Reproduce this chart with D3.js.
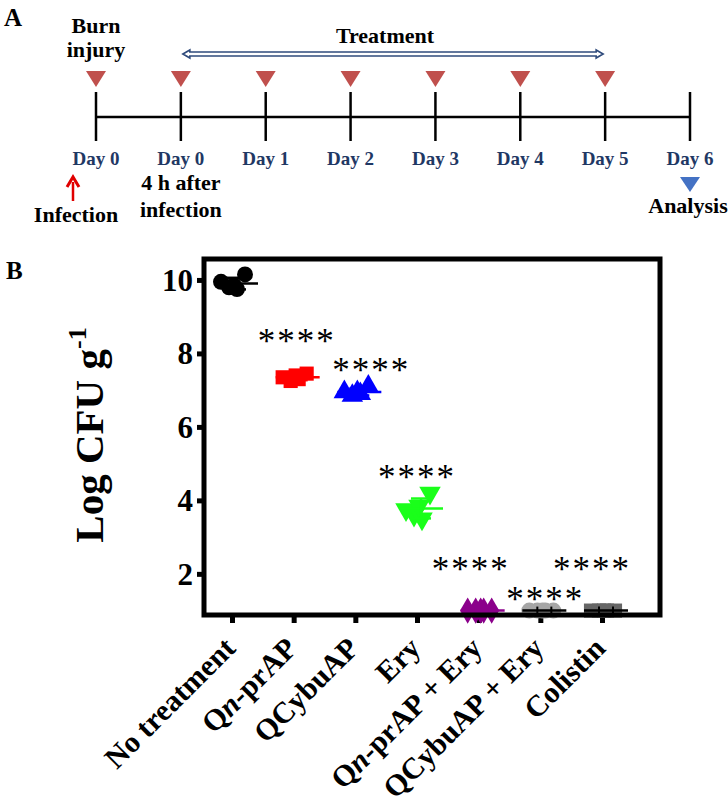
<!DOCTYPE html>
<html>
<head>
<meta charset="utf-8">
<script src="https://cdn.jsdelivr.net/npm/d3@7"></script>
<style>
  body { margin: 0; background: #fff; }
  svg { display: block; font-family: "Liberation Serif", "Times New Roman", serif; }
</style>
</head>
<body>
<svg id="fig" width="728" height="809"></svg>
<script>
// ---- panel A data: treatment timeline
var timelineDays = ["Day 0", "Day 0", "Day 1", "Day 2", "Day 3", "Day 4", "Day 5", "Day 6"];
var doseDays = [0, 1, 2, 3, 4, 5, 6];      // red markers (burn + treatment)
var treatmentSpan = [1, 6];                // treatment arrow, index of first/last day
var analysisDay = 7;

// ---- panel B data: log CFU per gram, 5 animals per group
var categories = ["No treatment", "Qn-prAP", "QCybuAP", "Ery", "Qn-prAP + Ery", "QCybuAP + Ery", "Colistin"];
var noTreatment = [9.95, 9.8, 9.75, 10.15, 9.85];
var qnPrAP      = [7.35, 7.25, 7.3, 7.45, 7.4];
var qcybuAP     = [6.95, 6.85, 6.9, 7.1, 6.95];
var ery         = [3.75, 3.6, 3.5, 4.2, 3.85];
var qnPrAPEry   = [1, 1, 1, 1, 1];
var qcybuAPEry  = [1, 1, 1, 1, 1];
var colistin    = [1, 1, 1, 1, 1];
var groups = [noTreatment, qnPrAP, qcybuAP, ery, qnPrAPEry, qcybuAPEry, colistin];
var stars = ["", "****", "****", "****", "****", "****", "****"];
var starLevel = [null, 8.45, 7.66, 4.75, 2.24, 1.43, 2.24];
var yTicks = [2, 4, 6, 8, 10];

var colors = ["#000000", "#ff0000", "#0000ff", "#1aff1a", "#8b008b", "#a6a6a6", "#666666"];
var shapes = [d3.symbolCircle, d3.symbolSquare, d3.symbolTriangle, d3.symbolTriangle,
              d3.symbolDiamond, d3.symbolCircle, d3.symbolSquare];
var lineColors = ["#000", "#ff0000", "#0000ff", "#1aff1a", "#8b008b", "#000", "#000"];

function drawFigure() {
  var svg = d3.select("#fig");

  /* ================= panel A ================= */
  var tl = d3.scalePoint().domain(d3.range(timelineDays.length)).range([96, 690]);
  var axisY = 117;

  svg.append("text").text("A")
    .attr("x", 4).attr("y", 26)
    .attr("font-size", 25).attr("font-weight", "bold");

  var pA = svg.append("g");

  pA.append("line")
    .attr("x1", tl(0)).attr("x2", tl(timelineDays.length - 1))
    .attr("y1", axisY).attr("y2", axisY)
    .attr("stroke", "#000").attr("stroke-width", 2.5);

  pA.selectAll(".tick-v").data(timelineDays).enter().append("line")
    .attr("x1", function(d, i) { return tl(i); })
    .attr("x2", function(d, i) { return tl(i); })
    .attr("y1", 92).attr("y2", 141)
    .attr("stroke", "#000").attr("stroke-width", 2.5);

  pA.selectAll(".day").data(timelineDays).enter().append("text")
    .text(function(d) { return d; })
    .attr("x", function(d, i) { return tl(i); })
    .attr("y", 165)
    .attr("text-anchor", "middle")
    .attr("font-size", 19).attr("font-weight", "bold")
    .attr("fill", "#1f3864");

  // red dose markers
  pA.selectAll(".dose").data(doseDays).enter().append("path")
    .attr("d", "M-10,0 L10,0 L0,16 Z")
    .attr("transform", function(d) { return "translate(" + tl(d) + ",71)"; })
    .attr("fill", "#c0504d");

  // analysis marker
  pA.append("path")
    .attr("d", "M-10,0 L10,0 L0,15 Z")
    .attr("transform", "translate(" + tl(analysisDay) + ",177)")
    .attr("fill", "#4472c4");

  // treatment double arrow (outlined block arrow)
  var ax1 = tl(treatmentSpan[0]) + 2, ax2 = tl(treatmentSpan[1]) - 2, ay = 54;
  pA.append("path")
    .attr("d", "M" + ax1 + "," + ay +
      " L" + (ax1 + 7) + "," + (ay - 4) + " L" + (ax1 + 7) + "," + (ay - 2) +
      " L" + (ax2 - 7) + "," + (ay - 2) + " L" + (ax2 - 7) + "," + (ay - 4) +
      " L" + ax2 + "," + ay +
      " L" + (ax2 - 7) + "," + (ay + 4) + " L" + (ax2 - 7) + "," + (ay + 2) +
      " L" + (ax1 + 7) + "," + (ay + 2) + " L" + (ax1 + 7) + "," + (ay + 4) + " Z")
    .attr("fill", "#fff").attr("stroke", "#2f4b7c").attr("stroke-width", 1.6);

  pA.append("text").text("Treatment")
    .attr("x", (tl(treatmentSpan[0]) + tl(treatmentSpan[1])) / 2 - 8).attr("y", 43)
    .attr("text-anchor", "middle").attr("font-size", 22).attr("font-weight", "bold");

  pA.append("text").text("Burn")
    .attr("x", tl(0)).attr("y", 33)
    .attr("text-anchor", "middle").attr("font-size", 22).attr("font-weight", "bold");
  pA.append("text").text("injury")
    .attr("x", tl(0)).attr("y", 57)
    .attr("text-anchor", "middle").attr("font-size", 22).attr("font-weight", "bold");

  // infection arrow
  var ix = tl(0) - 23;
  pA.append("line")
    .attr("x1", ix).attr("x2", ix).attr("y1", 201).attr("y2", 182)
    .attr("stroke", "#e00000").attr("stroke-width", 2.5);
  pA.append("path")
    .attr("d", "M" + (ix - 6) + ",187 L" + ix + ",177 L" + (ix + 6) + ",187")
    .attr("fill", "none").attr("stroke", "#e00000").attr("stroke-width", 3);
  pA.append("text").text("Infection")
    .attr("x", ix + 3).attr("y", 222)
    .attr("text-anchor", "middle").attr("font-size", 22).attr("font-weight", "bold");

  pA.append("text").text("4 h after")
    .attr("x", tl(1)).attr("y", 190)
    .attr("text-anchor", "middle").attr("font-size", 22).attr("font-weight", "bold");
  pA.append("text").text("infection")
    .attr("x", tl(1)).attr("y", 217)
    .attr("text-anchor", "middle").attr("font-size", 22).attr("font-weight", "bold");

  pA.append("text").text("Analysis")
    .attr("x", tl(analysisDay) - 2).attr("y", 213)
    .attr("text-anchor", "middle").attr("font-size", 22).attr("font-weight", "bold");

  /* ================= panel B ================= */
  svg.append("text").text("B")
    .attr("x", 6).attr("y", 279)
    .attr("font-size", 25).attr("font-weight", "bold");

  var left = 204, right = 660, plotTop = 259, bottom = 615;

  var x = d3.scalePoint().domain(categories).range([232, 602]);
  var y = d3.scaleLinear().domain([0.88, 10.57]).range([bottom, plotTop]);

  var pB = svg.append("g");

  // y axis
  var yAxis = pB.append("g")
    .attr("transform", "translate(" + left + ",0)")
    .call(d3.axisLeft(y).tickValues(yTicks).tickSize(7).tickPadding(4).tickFormat(d3.format("d")));
  yAxis.select(".domain").remove();
  yAxis.selectAll(".tick line").attr("stroke", "#000").attr("stroke-width", 5);
  yAxis.selectAll(".tick text")
    .attr("font-family", "Liberation Serif").attr("font-size", 31).attr("font-weight", "bold")
    .attr("fill", "#000").attr("dy", "0.34em");

  // x axis
  var xAxis = pB.append("g")
    .attr("transform", "translate(0," + bottom + ")")
    .call(d3.axisBottom(x).tickSize(8).tickFormat(""));
  xAxis.select(".domain").remove();
  xAxis.selectAll(".tick line").attr("stroke", "#000").attr("stroke-width", 5);

  // category labels, rotated, with italic n in Qn
  var labels = pB.selectAll(".xlab").data(categories).enter().append("text")
    .attr("transform", function(d) { return "translate(" + (x(d) + 5) + "," + (bottom + 35) + ") rotate(-45)"; })
    .attr("text-anchor", "end")
    .attr("font-size", 30).attr("font-weight", "bold");
  labels.each(function(d) {
    var t = d3.select(this);
    var m = d.match(/^Q(n)(-.*)$/);
    if (m) {
      t.append("tspan").text("Q");
      t.append("tspan").text("n").attr("font-style", "italic");
      t.append("tspan").text(m[2]);
    } else {
      t.text(d);
    }
  });

  // y title
  var yt = pB.append("text")
    .attr("transform", "translate(103,435) rotate(-90)")
    .attr("text-anchor", "middle")
    .attr("font-size", 41).attr("font-weight", "bold");
  yt.append("tspan").text("Log CFU g");
  yt.append("tspan").text("-1").attr("font-size", 26).attr("dy", -17);

  // points
  var jitter = [-11, -3, 5, 13, 2];
  var sym = d3.symbol().size(200);
  groups.forEach(function(vals, gi) {
    var cx = x(categories[gi]);
    var g = pB.append("g");
    g.selectAll("path").data(vals).enter().append("path")
      .attr("d", function() { return sym.type(shapes[gi])(); })
      .attr("transform", function(d, i) {
        var rot = gi === 3 ? " rotate(180)" : "";
        return "translate(" + (cx + jitter[i]) + "," + y(d) + ")" + rot;
      })
      .attr("fill", colors[gi]);

    var mean = d3.mean(vals), sd = d3.deviation(vals) || 0;
    var mx = cx + 4;
    g.append("line")
      .attr("x1", mx - 22).attr("x2", mx + 22)
      .attr("y1", y(mean)).attr("y2", y(mean))
      .attr("stroke", lineColors[gi]).attr("stroke-width", 2.5);
    if (sd > 0.02) {
      g.append("line")
        .attr("x1", mx).attr("x2", mx)
        .attr("y1", y(mean - sd)).attr("y2", y(mean + sd))
        .attr("stroke", lineColors[gi]).attr("stroke-width", 2.5);
      [mean - sd, mean + sd].forEach(function(v) {
        g.append("line")
          .attr("x1", mx - 10).attr("x2", mx + 10)
          .attr("y1", y(v)).attr("y2", y(v))
          .attr("stroke", lineColors[gi]).attr("stroke-width", 2.5);
      });
    } else {
      // collapsed error bar shows as small caps on the line
      [-7, 7].forEach(function(o) {
        g.append("line")
          .attr("x1", mx + o).attr("x2", mx + o)
          .attr("y1", y(mean) - 4).attr("y2", y(mean) + 4)
          .attr("stroke", lineColors[gi]).attr("stroke-width", 2);
      });
    }
  });

  // significance stars
  var starShift = [0, 3, 16, 0, -8, 5, -10];
  categories.forEach(function(c, i) {
    if (!stars[i]) return;
    pB.append("text").text(stars[i])
      .attr("x", x(c) + starShift[i])
      .attr("y", y(starLevel[i]) + 16)
      .attr("text-anchor", "middle")
      .attr("font-size", 35)
      .attr("letter-spacing", 2);
  });

  // frame
  pB.append("rect")
    .attr("x", left).attr("y", plotTop)
    .attr("width", right - left).attr("height", bottom - plotTop)
    .attr("fill", "none").attr("stroke", "#000").attr("stroke-width", 5);
}
drawFigure();
</script>
</body>
</html>
